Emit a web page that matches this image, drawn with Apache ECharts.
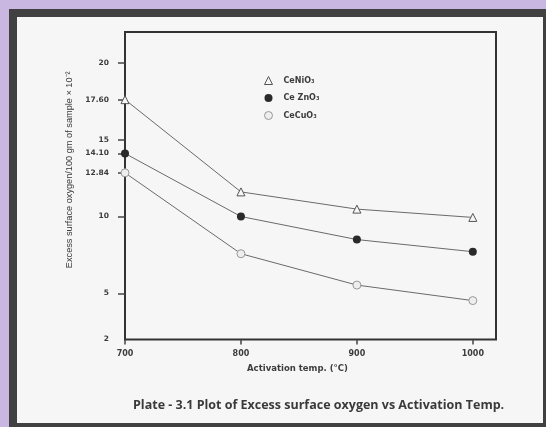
<!DOCTYPE html>
<html>
<head>
<meta charset="utf-8">
<script src="https://cdn.jsdelivr.net/npm/echarts@6/dist/echarts.min.js"></script>
<style>
html,body{margin:0;padding:0;background:#c9b7e2;}
#c{width:546px;height:427px;}
</style>
</head>
<body>
<div id="c"></div>
<script>
const temps = [700, 800, 900, 1000];
const ceNiO3 = [17.60, 11.6, 10.48, 9.94];
const ceZnO3 = [14.10, 10.0, 8.5, 7.71];
const ceCuO3 = [12.84, 7.58, 5.54, 4.53];
const seriesNames = ['CeNiO₃', 'Ce ZnO₃', 'CeCuO₃'];
const yTickValues = [2, 5, 10, 12.84, 14.10, 15, 17.60, 20];
const yTickLabels = ['2', '5', '10', '12.84', '14.10', '15', '17.60', '20'];
const xTickValues = [700, 800, 900, 1000];
const xTickLabels = ['700', '800', '900', '1000'];
const xTitle = 'Activation temp. (°C)';
const yTitle = 'Excess surface oxygen/100 gm of sample × 10⁻²';
const caption = 'Plate - 3.1 Plot of Excess surface oxygen vs Activation Temp.';

const chart = echarts.init(document.getElementById('c'), null, {renderer: 'canvas'});
const pair = (xs, ys) => xs.map((x, i) => [x, ys[i]]);
const lineStyle = {color: '#6a6a6a', width: 1};
const labelFont = {fontFamily: 'DejaVu Sans', fontWeight: 'bold', color: '#3c3c3c'};
const pick = (vals, labels) => v => { const i = vals.findIndex(t => Math.abs(t - v) < 1e-6); return i >= 0 ? labels[i] : ''; };

chart.setOption({
  animation: false,
  backgroundColor: '#c9b7e2',
  graphic: [
    {type: 'rect', z: -10, shape: {x: 9, y: 9, width: 537, height: 418}, style: {fill: '#414141'}},
    {type: 'rect', z: -9, shape: {x: 17, y: 17, width: 526, height: 406}, style: {fill: '#f6f6f6'}},
    {type: 'text', left: 133, top: 399, z: 5,
      style: {text: caption, fill: '#3a3a3a', font: 'bold 12.5px "Open Sans"'}}
  ],
  grid: {left: 125, right: 50, top: 32, bottom: 87.5, show: true, borderColor: '#333', borderWidth: 2, backgroundColor: 'transparent'},
  legend: {
    orient: 'vertical', left: 259, top: 71, itemWidth: 8, itemHeight: 8, itemGap: 9,
    textStyle: Object.assign({fontSize: 8, padding: [0, 0, 0, 6]}, labelFont),
    data: [
      {name: seriesNames[0], icon: 'triangle', itemStyle: {color: '#f6f6f6', borderColor: '#555', borderWidth: 1}},
      {name: seriesNames[1], icon: 'circle', itemStyle: {color: '#2a2a2a', borderWidth: 0}},
      {name: seriesNames[2], icon: 'circle', itemStyle: {color: '#eeeeee', borderColor: '#999', borderWidth: 1}}
    ]
  },
  xAxis: {
    type: 'value', min: 700, max: 1020, interval: 100,
    splitLine: {show: false}, axisLine: {show: false},
    axisTick: {show: true, length: 5, lineStyle: {color: '#444', width: 1.5}, customValues: xTickValues},
    axisLabel: Object.assign({fontSize: 8, margin: 10, customValues: xTickValues, formatter: pick(xTickValues, xTickLabels)}, labelFont),
    name: xTitle, nameLocation: 'middle', nameGap: 25,
    nameTextStyle: Object.assign({fontSize: 8.5, padding: [0, 26, 0, 0], verticalAlign: 'top'}, labelFont)
  },
  yAxis: {
    type: 'value', min: 2, max: 22,
    splitLine: {show: false}, axisLine: {show: false},
    axisTick: {show: true, length: 7, lineStyle: {color: '#444', width: 1.5}, customValues: yTickValues.filter(v => v !== 2)},
    axisLabel: Object.assign({fontSize: 7.5, margin: 16, customValues: yTickValues, formatter: pick(yTickValues, yTickLabels)}, labelFont),
    name: yTitle, nameLocation: 'middle', nameGap: 44, nameRotate: 90,
    nameTextStyle: {fontFamily: 'Liberation Sans Narrow, Liberation Sans', fontSize: 9.2, color: '#3a3a3a', padding: [0, 0, 0, 32]}
  },
  series: [
    {name: seriesNames[0], type: 'line', data: pair(temps, ceNiO3), symbol: 'triangle', symbolSize: 8,
      lineStyle: lineStyle, itemStyle: {color: '#f6f6f6', borderColor: '#555', borderWidth: 1}, clip: false},
    {name: seriesNames[1], type: 'line', data: pair(temps, ceZnO3), symbol: 'circle', symbolSize: 8,
      lineStyle: lineStyle, itemStyle: {color: '#2a2a2a', borderWidth: 0}, clip: false},
    {name: seriesNames[2], type: 'line', data: pair(temps, ceCuO3), symbol: 'circle', symbolSize: 8,
      lineStyle: lineStyle, itemStyle: {color: '#eeeeee', borderColor: '#999', borderWidth: 1}, clip: false}
  ]
});
</script>
</body>
</html>
